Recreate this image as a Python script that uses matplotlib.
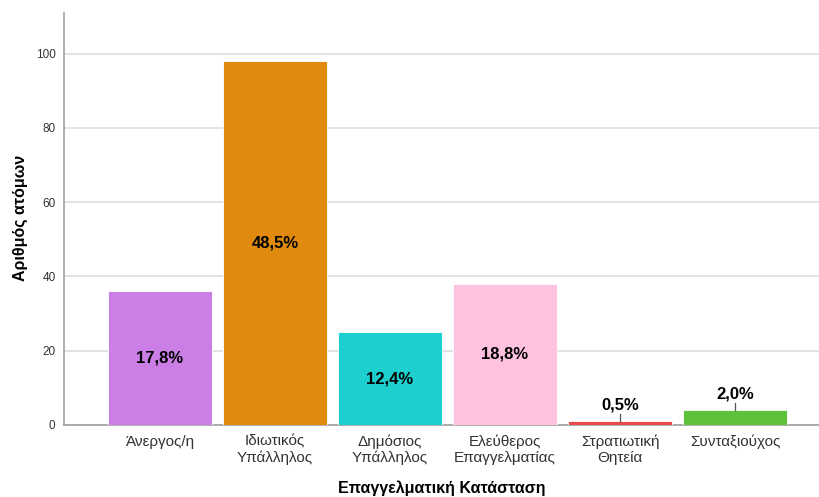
import matplotlib
matplotlib.use("Agg")
import matplotlib.pyplot as plt

plt.rcParams['font.family'] = ['Liberation Sans', 'DejaVu Sans']

categories = ['Άνεργος/η', 'Ιδιωτικός\nΥπάλληλος', 'Δημόσιος\nΥπάλληλος',
              'Ελεύθερος\nΕπαγγελματίας', 'Στρατιωτική\nΘητεία', 'Συνταξιούχος']
counts = [36, 98, 25, 38, 1, 4]
pct_labels = ['17,8%', '48,5%', '12,4%', '18,8%', '0,5%', '2,0%']
colors = ['#CB7FE6', '#E08B10', '#1ECFCF', '#FFC1E0', '#E84A4A', '#5DC23A']

fig = plt.figure(figsize=(8.19, 4.97), dpi=100)
ax = fig.add_axes([0.078, 0.145, 0.922, 0.829])

x = list(range(len(categories)))
ax.bar(x, counts, width=0.9, color=colors, edgecolor='white', linewidth=0.6, zorder=3)

for i, (c, lab) in enumerate(zip(counts, pct_labels)):
    if c >= 10:
        ax.text(i, c / 2, lab, ha='center', va='center', fontsize=12,
                fontweight='bold', color='black', zorder=4)
    else:
        ax.plot([i, i], [c, c + 2.0], color='#555555', linewidth=0.9, zorder=4)
        ax.text(i, c + 2.4, lab, ha='center', va='bottom', fontsize=12,
                fontweight='bold', color='black', zorder=4)

ax.set_xlim(-0.835, 5.73)
ax.set_ylim(0, 111)
ax.set_yticks([0, 20, 40, 60, 80, 100])
ax.set_xticks(x)
ax.set_xticklabels(categories, fontsize=11, color='#333333', linespacing=1.15)
ax.tick_params(axis='y', labelsize=8.5, colors='#333333', length=0, pad=6)
ax.tick_params(axis='x', length=0, pad=7)

ax.grid(axis='y', color='#DDDDDD', linewidth=1.2, zorder=0)
for s in ['top', 'right']:
    ax.spines[s].set_visible(False)
ax.spines['left'].set_color('#999999')
ax.spines['bottom'].set_color('#999999')
ax.spines['left'].set_linewidth(1.1)
ax.spines['bottom'].set_linewidth(1.1)

fig.text(0.539, 1 - 488 / 497, 'Επαγγελματική Κατάσταση', ha='center', va='center',
         fontsize=11.5, fontweight='bold')
fig.text(20 / 819, 1 - 218 / 497, 'Αριθμός ατόμων', ha='center', va='center',
         rotation=90, fontsize=11.5, fontweight='bold')

fig.savefig('out.png', dpi=100)
